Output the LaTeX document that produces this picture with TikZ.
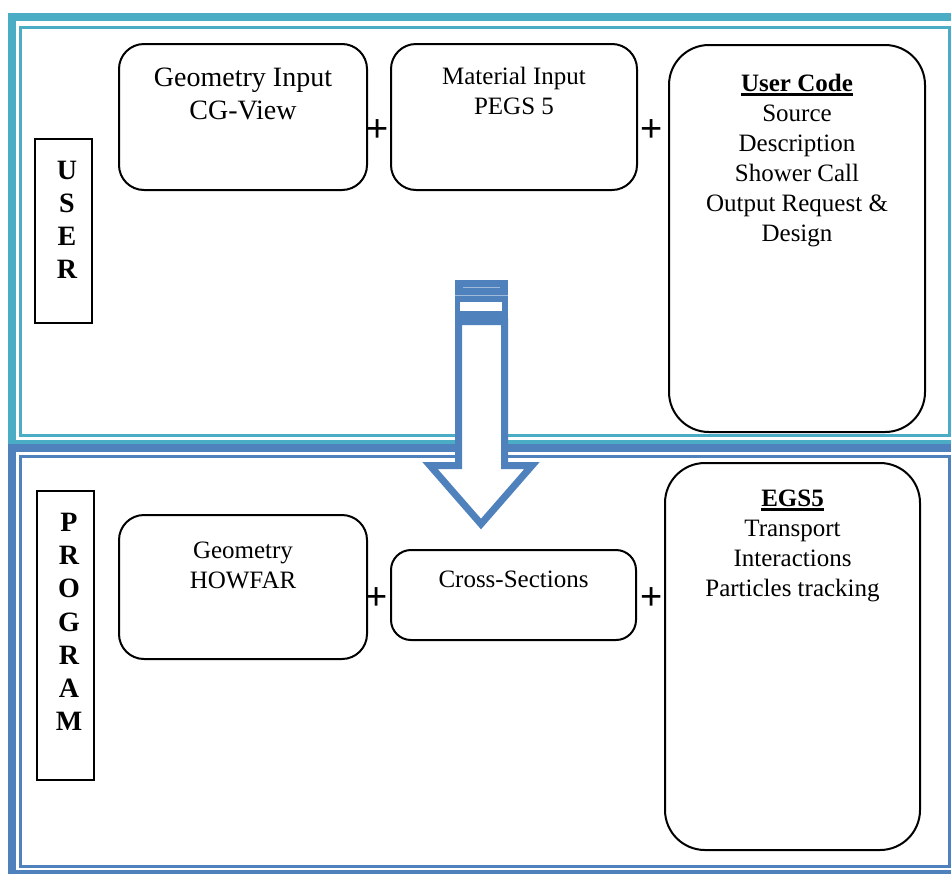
\documentclass[tikz,border=0pt]{standalone}
\usepackage{fontspec}
\setmainfont{Liberation Serif}
\newfontfamily\plusfont{Liberation Sans}
\definecolor{frameteal}{RGB}{75,172,198}
\definecolor{frameblue}{RGB}{79,129,189}
\usetikzlibrary{positioning}
\newcommand{\thickul}[1]{\leavevmode\vtop{\hbox{#1}\kern0.6pt\hrule height 1.3pt}}

\begin{document}
\begin{tikzpicture}[x=0.5pt, y=-0.5pt,
    roundbox/.style={draw, line width=1pt, rounded corners=12.5pt, inner sep=0pt},
    tallbox/.style={draw, line width=1pt, rounded corners=20pt, inner sep=0pt, minimum width=128pt, minimum height=193.5pt},
    letterbox/.style={draw, line width=1pt, inner sep=0pt, minimum width=28.5pt},
    bigtxt/.style={font=\fontsize{14}{16.5}\selectfont, align=center, inner sep=0pt},
    boxtxt/.style={font=\fontsize{12.5}{15}\selectfont, align=center, inner sep=0pt},
    lettertxt/.style={font=\fontsize{14}{16.6}\selectfont\bfseries, align=center, inner sep=0pt},
    plus/.style={font=\plusfont\fontsize{19}{19}\selectfont, inner sep=0pt}]

    \useasboundingbox (0,0) rectangle (951,873);

    % frames
    \begin{scope}
        \clip (0,0) rectangle (951,873);
        \draw[frameteal, line width=4pt] (12,17) rectangle (957,444);
        \draw[frameteal, line width=1.5pt] (20.5,27.5) rectangle (949,435);
        \draw[frameblue, line width=4pt] (12,448) rectangle (957,874);
        \draw[frameblue, line width=1.5pt] (20.5,456.5) rectangle (949,866.5);
    \end{scope}

    % user part
    \node[letterbox, minimum height=92pt] (user) at (63.5,231) {};
    \node[lettertxt] (usertxt) at (67,220) {U\\S\\E\\R};

    \node[roundbox, minimum width=124pt, minimum height=73pt] (geo) at (243,117) {};
    \node[bigtxt, below=12.5pt of geo.north] (geotxt) {Geometry Input\\CG-View};
    \node[roundbox, minimum width=123pt, minimum height=73pt] (mat) at (514,117) {};
    \node[boxtxt, below=12pt of mat.north] (mattxt) {Material Input\\PEGS 5};
    \node[tallbox] (code) at (797,238.5) {};
    \node[boxtxt, below=15pt of code.north] (codetxt) {\textbf{\thickul{User Code}}\\Source\\Description\\Shower Call\\Output Request \&\\Design};

    \node[plus] (plus1) at (378,131) {+};
    \node[plus] (plus2) at (652,131) {+};

    % program part
    \node[letterbox, minimum height=144.5pt] (prog) at (65.5,635.5) {};
    \node[lettertxt] (progtxt) at (69,622) {P\\R\\O\\G\\R\\A\\M};

    \node[roundbox, minimum width=124pt, minimum height=72pt] (howfar) at (243,587) {};
    \node[boxtxt, below=14pt of howfar.north] (howfartxt) {Geometry\\HOWFAR};
    \node[roundbox, rounded corners=10pt, minimum width=122.5pt, minimum height=45pt] (xsec) at (513.5,595) {};
    \node[boxtxt, below=11pt of xsec.north] (xsectxt) {Cross-Sections};
    \node[tallbox, minimum width=127.5pt] (egs) at (792.5,656.5) {};
    \node[boxtxt, below=14pt of egs.north] (egstxt) {\textbf{\thickul{EGS5}}\\Transport\\Interactions\\Particles tracking};

    \node[plus] (plus3) at (377,599) {+};
    \node[plus] (plus4) at (652,599) {+};

    % striped arrow
    \fill[frameblue] (455,280) rectangle (508,322);
    \fill[white] (460,302) rectangle (502,311);
    \draw[white, opacity=0.45, line width=0.5pt] (463,287) -- (500,287);
    \draw[white, opacity=0.45, line width=0.5pt] (455,295) -- (508,295);
    \draw[white, opacity=0.45, line width=0.5pt] (455,318) -- (508,318);
    \draw[frameblue, line width=3.5pt, fill=white] (458.5,321.5) -- (458.5,465.5) -- (430,465.5)
        -- (481,524) -- (532,465.5) -- (504.5,465.5) -- (504.5,321.5) -- cycle;
\end{tikzpicture}
\end{document}
